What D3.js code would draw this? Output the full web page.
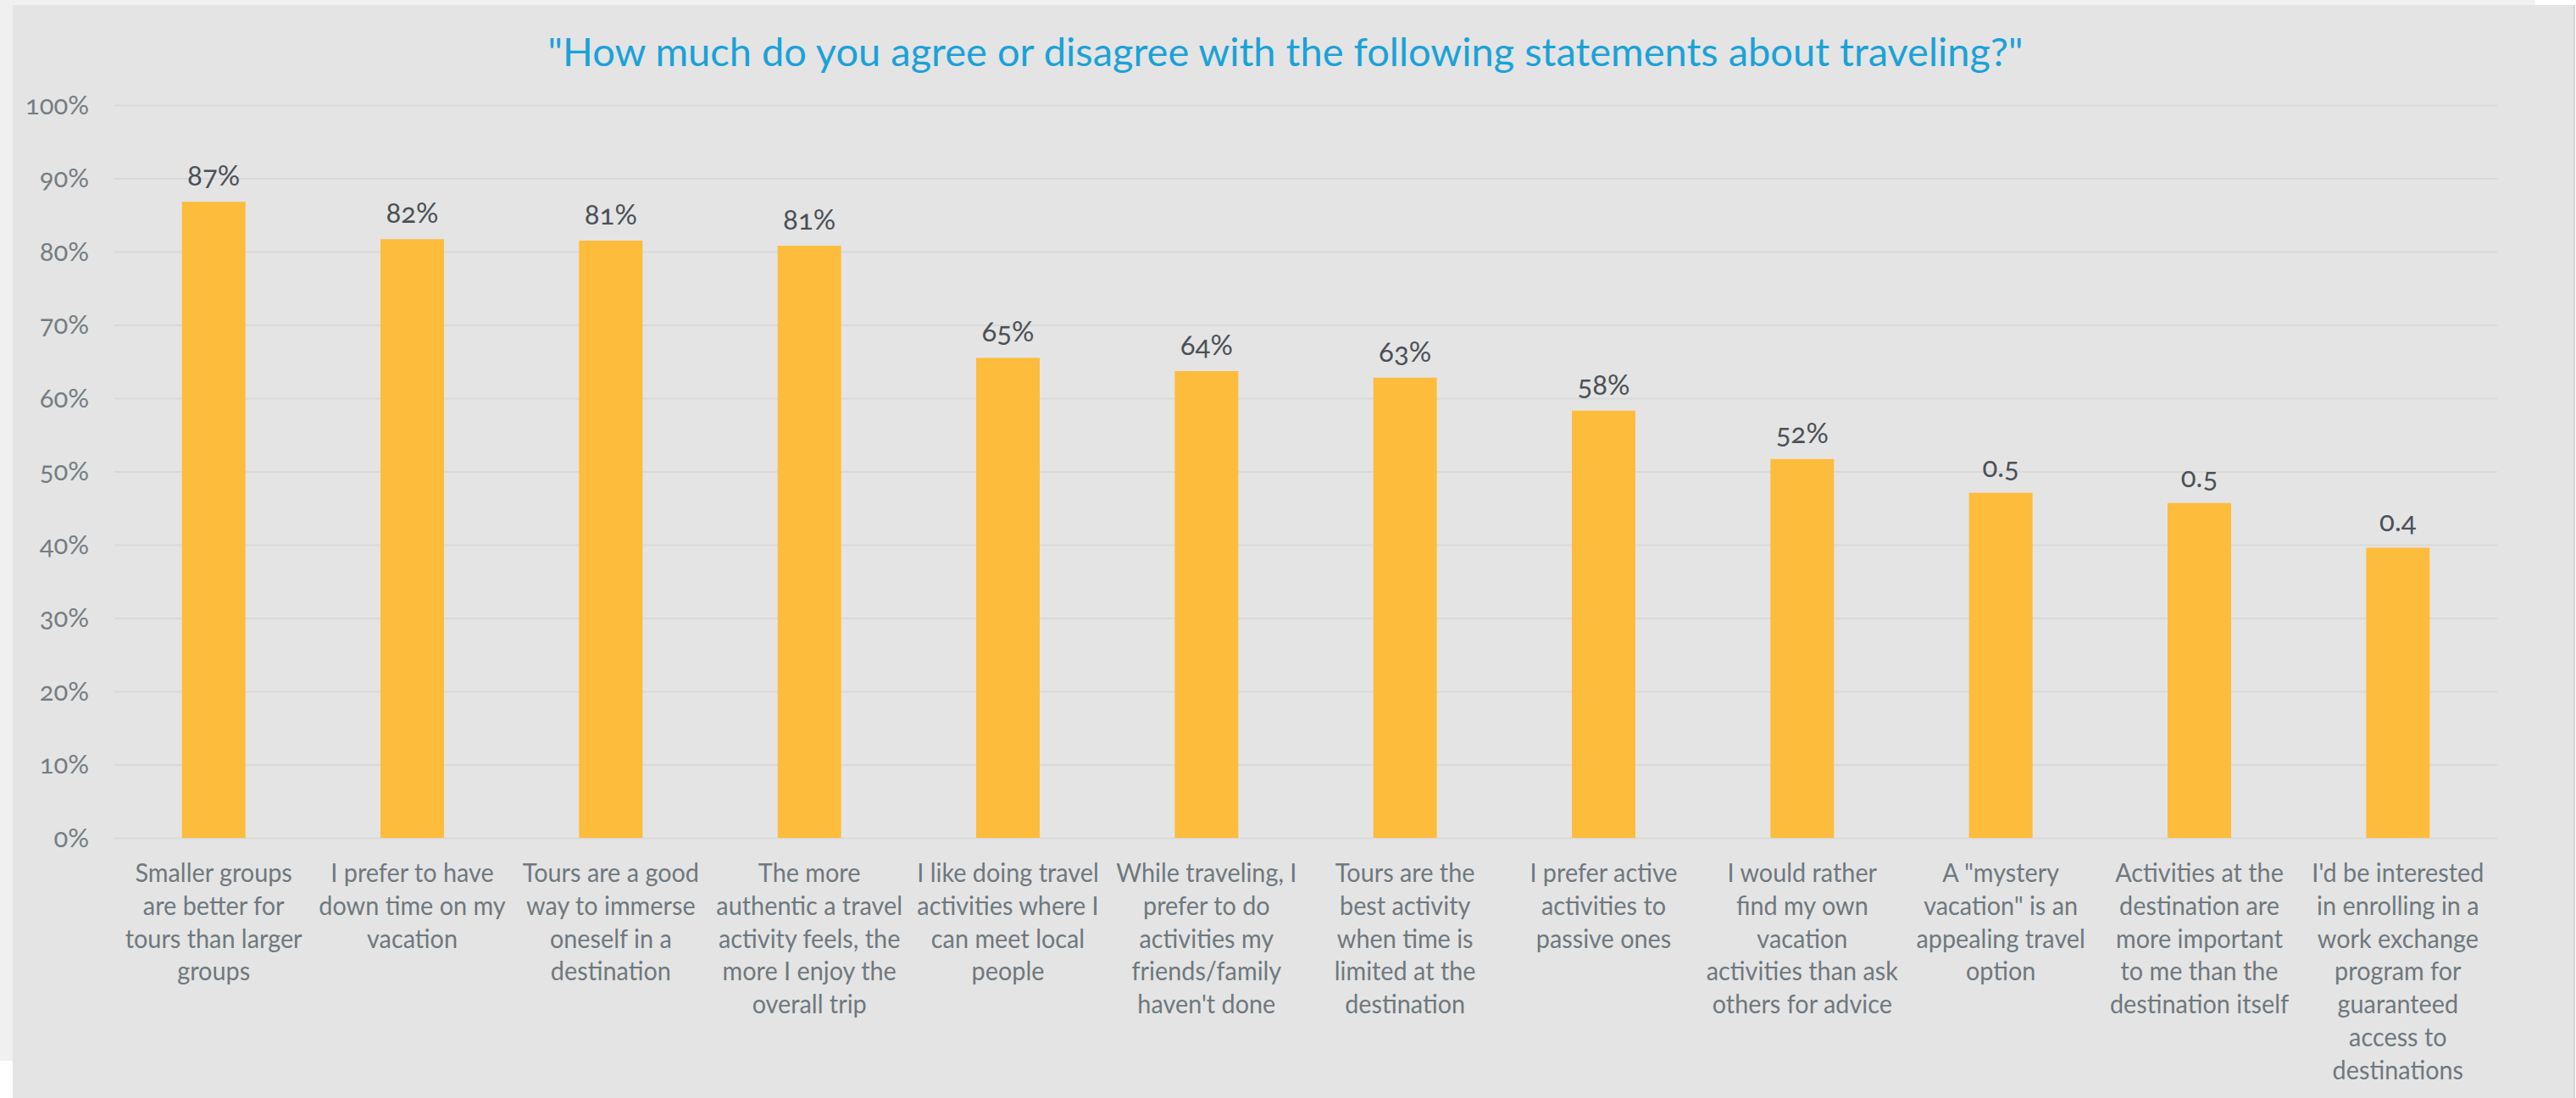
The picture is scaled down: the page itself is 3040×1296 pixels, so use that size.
<!DOCTYPE html>
<html>
<head>
<meta charset="utf-8">
<script src="https://cdn.jsdelivr.net/npm/d3@7"></script>
<style>
  body { margin: 0; background: #ffffff; }
  svg { display: block; }
  .axis-label, .bar-label, .cat-label, .title { font-family: Lato, "Open Sans", sans-serif; font-variant-numeric: oldstyle-nums; }
  .title { fill: #1aa2d8; font-size: 47px; }
  .axis-label { fill: #747d83; font-size: 31px; }
  .bar-label { fill: #4b5056; font-size: 33px; }
  .cat-label { fill: #6e787e; font-size: 31px; }
  .grid line { stroke: #d9d9d9; stroke-width: 2; }
  .grid .domain { display: none; }
</style>
</head>
<body>
<div id="chart"></div>
<script>
// survey statements, in chart order (line breaks as shown under each bar)
const categories = [
  ['Smaller groups', 'are better for', 'tours than larger', 'groups'],
  ['I prefer to have', 'down time on my', 'vacation'],
  ['Tours are a good', 'way to immerse', 'oneself in a', 'destination'],
  ['The more', 'authentic a travel', 'activity feels, the', 'more I enjoy the', 'overall trip'],
  ['I like doing travel', 'activities where I', 'can meet local', 'people'],
  ['While traveling, I', 'prefer to do', 'activities my', 'friends/family', "haven't done"],
  ['Tours are the', 'best activity', 'when time is', 'limited at the', 'destination'],
  ['I prefer active', 'activities to', 'passive ones'],
  ['I would rather', 'find my own', 'vacation', 'activities than ask', 'others for advice'],
  ['A "mystery', 'vacation" is an', 'appealing travel', 'option'],
  ['Activities at the', 'destination are', 'more important', 'to me than the', 'destination itself'],
  ["I'd be interested", 'in enrolling in a', 'work exchange', 'program for', 'guaranteed', 'access to', 'destinations']
];
const agreeShare = [0.868, 0.817, 0.815, 0.808, 0.655, 0.637, 0.628, 0.583, 0.517, 0.471, 0.457, 0.396];
const barLabels = ['87%', '82%', '81%', '81%', '65%', '64%', '63%', '58%', '52%', '0.5', '0.5', '0.4'];
const yTicks = [0, 0.1, 0.2, 0.3, 0.4, 0.5, 0.6, 0.7, 0.8, 0.9, 1.0];
const chartTitle = '"How much do you agree or disagree with the following statements about traveling?"';

class BarChart {

  constructor(_config, _data) {
    this.config = {
      parentElement: _config.parentElement,
      containerWidth: 3040,
      containerHeight: 1296,
      margin: {top: 124, right: 93, bottom: 307, left: 135}
    }
    this.data = _data
    this.initVis();
  }

  initVis() {
    let vis = this;

    vis.width = vis.config.containerWidth - vis.config.margin.left - vis.config.margin.right;
    vis.height = vis.config.containerHeight - vis.config.margin.top - vis.config.margin.bottom;

    vis.svg = d3.select(vis.config.parentElement).append('svg')
        .attr('width', vis.config.containerWidth)
        .attr('height', vis.config.containerHeight);

    // page frame: light strips on top / left, grey panel behind the chart
    vis.svg.append('rect')
        .attr('x', 0).attr('y', 0)
        .attr('width', 2992).attr('height', 6)
        .attr('fill', '#f0f0f0');
    vis.svg.append('rect')
        .attr('x', 0).attr('y', 0)
        .attr('width', 15).attr('height', 1252)
        .attr('fill', '#f0f0f0');
    vis.svg.append('rect')
        .attr('x', 15).attr('y', 6)
        .attr('width', vis.config.containerWidth - 17).attr('height', vis.config.containerHeight - 6)
        .attr('fill', '#e4e4e4');
    vis.svg.append('line')
        .attr('x1', 3038).attr('x2', 3038)
        .attr('y1', 6).attr('y2', vis.config.containerHeight)
        .attr('stroke', '#d4d4d4').attr('stroke-width', 2);

    vis.xScale = d3.scaleBand()
        .range([0, vis.width])
        .paddingInner(0.68)
        .paddingOuter(0.34);

    vis.yScale = d3.scaleLinear()
        .domain([0, 1])
        .range([vis.height, 0]);

    vis.chart = vis.svg.append('g')
        .attr('class', 'chart')
        .attr('transform', `translate(${vis.config.margin.left},${vis.config.margin.top})`);

    vis.gridG = vis.chart.append('g')
        .attr('class', 'grid');

    vis.yAxisG = vis.svg.append('g')
        .attr('class', 'y-axis');

    vis.svg.append('text')
        .attr('class', 'title')
        .attr('x', 1517)
        .attr('y', 78)
        .attr('text-anchor', 'middle')
        .text(chartTitle);
  }

  updateVis() {
    let vis = this;
    vis.xValue = d => d.index;
    vis.yValue = d => d.value;
    vis.xScale.domain(vis.data.map(vis.xValue));
    vis.renderVis();
  }

  renderVis() {
    let vis = this;

    // horizontal gridlines
    vis.gridG.call(d3.axisLeft(vis.yScale)
        .tickValues(yTicks)
        .tickSize(-vis.width)
        .tickFormat(''));

    // y tick labels sit well left of the gridlines
    vis.yAxisG.selectAll('.axis-label')
        .data(yTicks)
        .join('text')
        .attr('class', 'axis-label')
        .attr('x', 105)
        .attr('y', d => vis.config.margin.top + vis.yScale(d))
        .attr('dy', '0.35em')
        .attr('text-anchor', 'end')
        .text(d => d3.format('.0%')(d));

    vis.chart.selectAll('.bar')
        .data(vis.data)
        .join('rect')
        .attr('class', 'bar')
        .attr('x', d => vis.xScale(vis.xValue(d)))
        .attr('width', vis.xScale.bandwidth())
        .attr('y', d => vis.yScale(vis.yValue(d)))
        .attr('height', d => vis.height - vis.yScale(vis.yValue(d)))
        .attr('fill', '#fdbc3c');

    vis.chart.selectAll('.bar-label')
        .data(vis.data)
        .join('text')
        .attr('class', 'bar-label')
        .attr('x', d => vis.xScale(vis.xValue(d)) + vis.xScale.bandwidth() / 2)
        .attr('y', d => vis.yScale(vis.yValue(d)) - 19)
        .attr('text-anchor', 'middle')
        .text(d => d.label);

    // statement text is a little condensed, like the narrow face in the original
    const cat = vis.chart.selectAll('.cat-label')
        .data(vis.data)
        .join('text')
        .attr('class', 'cat-label')
        .attr('text-anchor', 'middle')
        .attr('transform', d => `translate(${vis.xScale(vis.xValue(d)) + vis.xScale.bandwidth() / 2},${vis.height + 52}) scale(0.93,1)`);

    cat.selectAll('tspan')
        .data(d => d.lines)
        .join('tspan')
        .attr('x', 0)
        .attr('y', (d, i) => i * 38.8)
        .text(d => d);
  }
}

const data = agreeShare.map((v, i) => ({index: i, value: v, label: barLabels[i], lines: categories[i]}));
const barChart = new BarChart({parentElement: '#chart'}, data);
barChart.updateVis();
</script>
</body>
</html>
